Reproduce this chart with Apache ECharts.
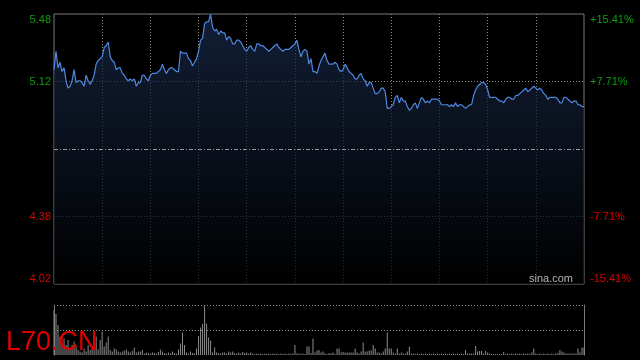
<!DOCTYPE html>
<html>
<head>
<meta charset="utf-8">
<script src="https://cdn.jsdelivr.net/npm/echarts@6/dist/echarts.min.js"></script>
<style>
  html, body { margin: 0; padding: 0; background: #000; }
  #chart { width: 640px; height: 360px; }
</style>
</head>
<body>
<div id="chart"></div>
<script>
// 昨收价（基准）
const basePrice = 4.75;

// 分时价格
const prices = [
  5.18, 5.28, 5.19, 5.22, 5.17, 5.19, 5.12, 5.08, 5.09, 5.12,
  5.18, 5.11, 5.12, 5.12, 5.11, 5.09, 5.15, 5.12, 5.10, 5.12,
  5.15, 5.21, 5.23, 5.24, 5.25, 5.30, 5.31, 5.33, 5.25, 5.23,
  5.22, 5.18, 5.19, 5.19, 5.16, 5.15, 5.13, 5.12, 5.13, 5.12,
  5.13, 5.09, 5.11, 5.11, 5.15, 5.15, 5.13, 5.12, 5.15, 5.16,
  5.16, 5.16, 5.17, 5.18, 5.21, 5.18, 5.16, 5.18, 5.19, 5.19,
  5.18, 5.17, 5.17, 5.28, 5.27, 5.27, 5.27, 5.24, 5.23, 5.20,
  5.22, 5.24, 5.28, 5.34, 5.35, 5.43, 5.44, 5.44, 5.48, 5.41,
  5.39, 5.40, 5.37, 5.39, 5.38, 5.38, 5.34, 5.36, 5.35, 5.32,
  5.32, 5.34, 5.34, 5.33, 5.31, 5.29, 5.28, 5.30, 5.31, 5.29,
  5.28, 5.32, 5.32, 5.31, 5.31, 5.30, 5.29, 5.28, 5.29, 5.30,
  5.31, 5.32, 5.30, 5.29, 5.28, 5.29, 5.29, 5.29, 5.30, 5.31,
  5.32, 5.34, 5.29, 5.25, 5.28, 5.29, 5.28, 5.21, 5.24, 5.17,
  5.17, 5.16, 5.20, 5.23, 5.25, 5.27, 5.23, 5.21, 5.21, 5.21,
  5.22, 5.21, 5.18, 5.17, 5.18, 5.21, 5.19, 5.17, 5.16, 5.15,
  5.13, 5.13, 5.15, 5.16, 5.13, 5.12, 5.09, 5.11, 5.11, 5.08,
  5.05, 5.05, 5.06, 5.08, 5.08, 5.06, 4.97, 4.97, 4.98, 4.99,
  5.03, 5.04, 5.00, 5.03, 5.01, 5.01, 4.98, 4.96, 4.97, 4.99,
  5.00, 4.97, 5.00, 5.03, 5.02, 5.00, 5.01, 5.00, 5.02, 5.02,
  5.02, 5.02, 5.01, 4.99, 4.99, 4.99, 4.99, 4.98, 4.99, 4.98,
  5.00, 4.98, 4.99, 4.99, 4.98, 4.97, 4.98, 4.99, 4.99, 5.04,
  5.07, 5.09, 5.10, 5.11, 5.11, 5.10, 5.07, 5.03, 5.03, 5.03,
  5.03, 5.02, 5.01, 5.01, 5.00, 5.02, 5.03, 5.03, 5.02, 5.02,
  5.04, 5.04, 5.05, 5.06, 5.07, 5.08, 5.06, 5.07, 5.08, 5.09,
  5.08, 5.07, 5.08, 5.07, 5.05, 5.04, 5.02, 5.03, 5.03, 5.03,
  5.03, 5.02, 5.00, 5.00, 5.03, 5.03, 5.02, 5.01, 5.00, 5.01,
  5.01, 4.99, 4.99, 4.98, 4.98
];

// 成交量（相对值）
const volumes = [
  90, 82, 60, 37, 23, 33, 20, 30, 13, 20,
  27, 17, 10, 7, 5, 13, 7, 20, 10, 17,
  23, 37, 11, 30, 47, 17, 25, 37, 10, 7,
  13, 11, 7, 5, 7, 9, 11, 7, 5, 8,
  15, 5, 7, 7, 10, 3, 5, 4, 3, 5,
  4, 3, 6, 11, 7, 4, 3, 5, 3, 7,
  4, 3, 11, 23, 45, 20, 5, 3, 7, 4,
  3, 13, 38, 55, 62, 99, 63, 35, 29, 5,
  15, 5, 4, 3, 5, 5, 3, 7, 5, 7,
  4, 3, 5, 3, 6, 4, 5, 3, 5, 3,
  2, 3, 2, 3, 2, 3, 2, 3, 2, 3,
  2, 3, 2, 3, 2, 3, 2, 3, 2, 3,
  20, 3, 3, 2, 3, 2, 17, 17, 4, 33,
  5, 9, 10, 5, 7, 3, 2, 4, 3, 5,
  2, 13, 13, 5, 6, 5, 5, 5, 5, 5,
  13, 5, 3, 7, 25, 7, 7, 9, 9, 20,
  13, 5, 5, 3, 7, 13, 45, 13, 13, 5,
  3, 13, 3, 5, 3, 3, 7, 17, 3, 3,
  2, 3, 2, 3, 2, 3, 2, 3, 2, 3,
  2, 3, 2, 3, 2, 3, 2, 3, 2, 3,
  2, 3, 2, 3, 2, 10, 3, 3, 3, 3,
  18, 7, 8, 8, 3, 8, 5, 3, 2, 2,
  2, 2, 2, 2, 6, 2, 3, 2, 3, 2,
  3, 2, 3, 2, 3, 2, 3, 2, 5, 13,
  3, 2, 3, 2, 3, 2, 3, 2, 3, 2,
  3, 4, 10, 7, 5, 3, 3, 3, 3, 3,
  3, 13, 5, 15, 15
];

// 纵轴刻度文字（自下而上）
const priceTicks = ['4.02', '4.38', '', '5.12', '5.48'];
const pctTicks = ['-15.41%', '-7.71%', '', '+7.71%', '+15.41%'];

const pctMax = 15.41;
const pctStep = 7.705;
const upColor = '#109c10';
const downColor = '#d80000';

const times = prices.map((p, i) => i);
const pctData = prices.map(p => (p / basePrice - 1) * 100);

function tickIndex(v) {
  return Math.round((v + pctMax) / pctStep);
}
function tickColor(v) {
  return v > 0 ? upColor : downColor;
}

const myChart = echarts.init(document.getElementById('chart'));
myChart.setOption({
  backgroundColor: '#000',
  animation: false,
  textStyle: { fontFamily: 'Liberation Sans, Arial, sans-serif' },
  title: {
    text: 'L70.CN',
    left: 1,
    top: 324,
    textStyle: { color: '#e00000', fontSize: 27, fontWeight: 'normal', fontFamily: 'Liberation Sans, Arial, sans-serif' }
  },
  graphic: [{
    type: 'text',
    right: 67,
    top: 273,
    z: 10,
    style: { text: 'sina.com', fill: '#b4b4b4', font: '11px "Liberation Sans", Arial, sans-serif' }
  }],
  grid: [
    { left: 54, right: 56, top: 14, height: 270, show: true, borderColor: '#7a7a7a', borderWidth: 1, backgroundColor: 'transparent' },
    { left: 54, right: 56, top: 305, height: 50 }
  ],
  xAxis: [
    {
      type: 'category', gridIndex: 0, data: times, boundaryGap: false,
      axisLine: { show: false }, axisTick: { show: false }, axisLabel: { show: false },
      splitLine: {
        show: true,
        interval: function (idx) { return idx % 24 === 0 && idx > 0 && idx < times.length - 1; },
        lineStyle: { color: '#8a8a8a', type: [1, 2] }
      }
    },
    {
      type: 'category', gridIndex: 1, data: times, boundaryGap: false,
      axisLine: { show: false }, axisTick: { show: false }, axisLabel: { show: false },
      splitLine: { show: false }
    }
  ],
  yAxis: [
    {
      type: 'value', gridIndex: 0, position: 'left',
      min: -pctMax, max: pctMax, interval: pctStep,
      axisLine: { show: false }, axisTick: { show: false },
      axisLabel: {
        margin: 3, fontSize: 11,
        verticalAlignMaxLabel: 'top', verticalAlignMinLabel: 'bottom',
        color: tickColor,
        formatter: v => priceTicks[tickIndex(v)] || ''
      },
      splitLine: {
        show: true,
        lineStyle: { color: ['transparent', '#8a8a8a', 'transparent', '#8a8a8a', 'transparent'], type: [1, 2] }
      }
    },
    {
      type: 'value', gridIndex: 0, position: 'right',
      min: -pctMax, max: pctMax, interval: pctStep,
      axisLine: { show: false }, axisTick: { show: false },
      axisLabel: {
        margin: 6, fontSize: 11,
        verticalAlignMaxLabel: 'top', verticalAlignMinLabel: 'bottom',
        color: tickColor,
        formatter: v => pctTicks[tickIndex(v)] || ''
      },
      splitLine: { show: false }
    },
    {
      type: 'value', gridIndex: 1, position: 'left',
      min: 0, max: 100, interval: 50,
      axisLine: { show: true, lineStyle: { color: '#7a7a7a' } },
      axisTick: { show: false }, axisLabel: { show: false },
      splitLine: {
        show: true,
        lineStyle: { color: ['transparent', '#8a8a8a', '#8a8a8a'], type: [1, 2] }
      }
    },
    {
      type: 'value', gridIndex: 1, position: 'right',
      min: 0, max: 100, interval: 50,
      axisLine: { show: true, lineStyle: { color: '#7a7a7a' } },
      axisTick: { show: false }, axisLabel: { show: false },
      splitLine: { show: false }
    }
  ],
  series: [
    {
      name: '价格',
      type: 'line',
      xAxisIndex: 0, yAxisIndex: 0,
      data: pctData,
      showSymbol: false,
      lineStyle: { color: '#4f88e0', width: 1.2 },
      areaStyle: {
        origin: 'start',
        color: new echarts.graphic.LinearGradient(0, 0, 0, 1, [
          { offset: 0, color: '#1a2b4c' },
          { offset: 1, color: '#000000' }
        ])
      },
      markLine: {
        silent: true,
        symbol: 'none',
        label: { show: false },
        lineStyle: { color: '#9a9a9a', type: [4, 2, 1, 2], width: 1 },
        data: [{ yAxis: 0 }]
      }
    },
    {
      name: '成交量',
      type: 'bar',
      xAxisIndex: 1, yAxisIndex: 2,
      data: volumes,
      barWidth: 1,
      itemStyle: { color: '#8c8c8c' }
    }
  ]
});
</script>
</body>
</html>
